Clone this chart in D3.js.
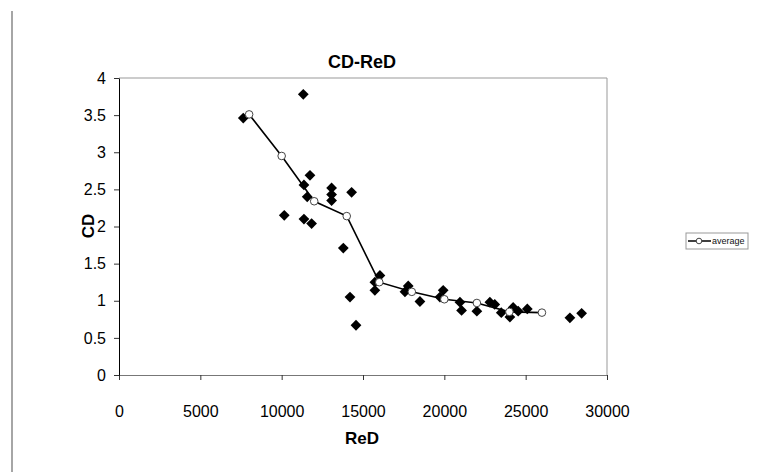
<!DOCTYPE html>
<html><head><meta charset="utf-8">
<script src="https://cdn.jsdelivr.net/npm/d3@7"></script>
<style>body{margin:0;background:#fff}svg{display:block}</style>
</head><body>
<script>
// Data
const scatterRe = [7640,11330,11740,11370,11570,10160,11370,11840,13070,13070,13070,14300,13790,16040,15730,15730,14200,14570,17780,17580,18500,19930,19730,20960,21060,22000,22800,23100,23500,24230,24030,24540,25100,27720,28440];
const scatterCD = [3.46,3.78,2.69,2.56,2.40,2.15,2.10,2.04,2.52,2.43,2.35,2.46,1.71,1.34,1.25,1.14,1.05,0.67,1.20,1.12,0.99,1.14,1.05,0.98,0.87,0.86,0.98,0.95,0.84,0.91,0.78,0.86,0.89,0.77,0.83];
const avgRe = [8000,10000,12000,14000,16000,18000,20000,22000,24000,26000];
const avgCD = [3.51,2.95,2.34,2.14,1.25,1.12,1.02,0.97,0.85,0.84];
const xTicks = [0,5000,10000,15000,20000,25000,30000];
const yTicks = [0,0.5,1,1.5,2,2.5,3,3.5,4];

const W = 757, H = 472;
const L = 119, R = 607, T = 78, B = 375;
const font = "Arial, 'Liberation Sans', sans-serif";

const svg = d3.select("body").append("svg").attr("width", W).attr("height", H);

const x = d3.scaleLinear().domain([0,30000]).range([L,R]);
const y = d3.scaleLinear().domain([0,4]).range([B,T]);

// left page border line
svg.append("line").attr("x1",12).attr("x2",12).attr("y1",11).attr("y2",H)
  .attr("stroke","#888").attr("stroke-width",1.5);

// plot frame (top, right)
svg.append("path").attr("d",`M${L},${T}H${R}V${B}`).attr("fill","none").attr("stroke","#999").attr("stroke-width",1);

// axes
const xa = svg.append("g").attr("transform",`translate(0,${B})`)
  .call(d3.axisBottom(x).tickValues(xTicks).tickFormat(d3.format("d")).tickSize(5).tickSizeOuter(0));
xa.select(".domain").attr("stroke","#777");
xa.selectAll(".tick line").attr("stroke","#333");
xa.selectAll("text").attr("font-family",font).attr("font-size",16).attr("fill","#000").attr("y",38).attr("dy",0)
  .attr("dominant-baseline","middle");

const ya = svg.append("g").attr("transform",`translate(${L},0)`)
  .call(d3.axisLeft(y).tickValues(yTicks).tickFormat(d=>String(d)).tickSize(5).tickSizeOuter(0));
ya.select(".domain").attr("stroke","#000");
ya.selectAll(".tick line").attr("stroke","#333");
ya.selectAll("text").attr("font-family",font).attr("font-size",16).attr("fill","#000").attr("x",-13);

// title and labels
svg.append("text").attr("x",362).attr("y",68).attr("text-anchor","middle")
  .attr("font-family",font).attr("font-weight","bold").attr("font-size",18).text("CD-ReD");
svg.append("text").attr("x",362).attr("y",444).attr("text-anchor","middle")
  .attr("font-family",font).attr("font-weight","bold").attr("font-size",17).text("ReD");
svg.append("text").attr("transform",`translate(94,226) rotate(-90)`).attr("text-anchor","middle")
  .attr("font-family",font).attr("font-weight","bold").attr("font-size",17).text("CD");

// scatter diamonds
const diamond = d3.symbol().type(d3.symbolSquare).size(58);
svg.append("g").selectAll("path").data(scatterRe.map((r,i)=>[r,scatterCD[i]])).join("path")
  .attr("d", diamond)
  .attr("transform", d=>`translate(${x(d[0])},${y(d[1])}) rotate(45)`)
  .attr("fill","#000");

// average line + circles
const avg = avgRe.map((r,i)=>[r,avgCD[i]]);
svg.append("path").datum(avg).attr("d", d3.line().x(d=>x(d[0])).y(d=>y(d[1])))
  .attr("fill","none").attr("stroke","#000").attr("stroke-width",1.6);
svg.append("g").selectAll("circle").data(avg).join("circle")
  .attr("cx",d=>x(d[0])).attr("cy",d=>y(d[1])).attr("r",3.8)
  .attr("fill","#fff").attr("stroke","#444").attr("stroke-width",1);

// legend
const lg = svg.append("g");
lg.append("rect").attr("x",686).attr("y",233).attr("width",62).attr("height",16)
  .attr("fill","#fff").attr("stroke","#999").attr("stroke-width",1);
lg.append("line").attr("x1",688).attr("x2",711).attr("y1",241).attr("y2",241).attr("stroke","#000").attr("stroke-width",1.5);
lg.append("circle").attr("cx",699).attr("cy",241).attr("r",2.8).attr("fill","#fff").attr("stroke","#444");
lg.append("text").attr("x",712).attr("y",244).attr("font-family",font).attr("font-size",9).attr("fill","#111").text("average");
</script>
</body></html>
